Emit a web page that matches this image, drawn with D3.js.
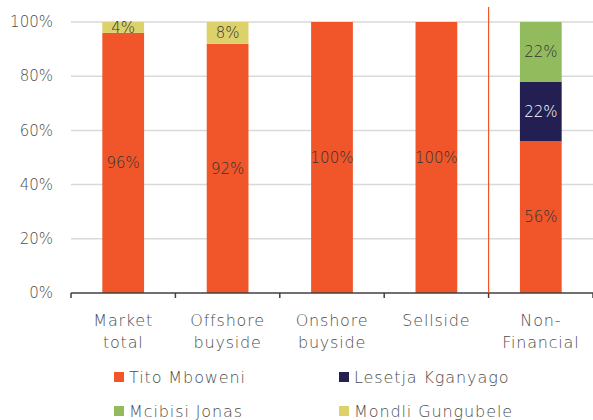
<!DOCTYPE html>
<html>
<head>
<meta charset="utf-8">
<script src="https://cdn.jsdelivr.net/npm/d3@7"></script>
<style>
  body { margin: 0; background: #fff; }
  svg text { font-family: "DejaVu Sans", sans-serif; font-weight: 200; }
</style>
</head>
<body>
<div id="chart"></div>
<script>
// data
const categories = ['Market total', 'Offshore buyside', 'Onshore buyside', 'Sellside', 'Non-Financial']
const catLines = [['Market', 'total'], ['Offshore', 'buyside'], ['Onshore', 'buyside'], ['Sellside'], ['Non-', 'Financial']]
const seriesNames = ['Tito Mboweni', 'Lesetja Kganyago', 'Mcibisi Jonas', 'Mondli Gungubele']
const tito = [96, 92, 100, 100, 56]
const lesetja = [0, 0, 0, 0, 22]
const mcibisi = [0, 0, 0, 0, 22]
const mondli = [4, 8, 0, 0, 0]
const yTicks = [0, 20, 40, 60, 80, 100]
const colors = ['#f0562a', '#231f52', '#92bb5e', '#ddd16b']
const labelColors = ['#333333', '#ffffff', '#333333', '#333333']

const width = 593
const height = 420
const margin = {top: 22, right: 0, bottom: 127, left: 71}

const svg = d3.select('#chart').append('svg')
    .attr('width', width)
    .attr('height', height)

const rows = categories.map((c, i) => ({
    cat: c,
    [seriesNames[0]]: tito[i],
    [seriesNames[1]]: lesetja[i],
    [seriesNames[2]]: mcibisi[i],
    [seriesNames[3]]: mondli[i]
}))
const stacked = d3.stack().keys(seriesNames)(rows)

const x = d3.scaleBand()
    .domain(categories)
    .range([margin.left, width - margin.right])
    .paddingInner(0.6)
    .paddingOuter(0.3)
const y = d3.scaleLinear()
    .domain([0, 100])
    .range([height - margin.bottom, margin.top])

// grid
svg.append('g')
    .selectAll('line')
    .data(yTicks.filter(d => d > 0))
    .join('line')
    .attr('x1', margin.left)
    .attr('x2', width - margin.right)
    .attr('y1', d => y(d))
    .attr('y2', d => y(d))
    .attr('stroke', '#d9d9d9')
    .attr('stroke-width', 1.5)

// y labels
svg.append('g')
    .selectAll('text')
    .data(yTicks)
    .join('text')
    .attr('x', 53)
    .attr('y', d => y(d))
    .attr('dy', '0.35em')
    .attr('text-anchor', 'end')
    .attr('font-size', 15)
    .attr('fill', '#4d4d4d')
    .text(d => d + '%')

// bars
const layer = svg.append('g')
    .selectAll('g')
    .data(stacked)
    .join('g')
    .attr('fill', (d, i) => colors[i])
layer.selectAll('rect')
    .data(d => d)
    .join('rect')
    .attr('x', d => x(d.data.cat))
    .attr('width', x.bandwidth())
    .attr('y', d => y(d[1]))
    .attr('height', d => y(d[0]) - y(d[1]))

// bar labels
stacked.forEach((s, si) => {
    svg.append('g')
        .selectAll('text')
        .data(s.filter(d => d[1] - d[0] > 0))
        .join('text')
        .attr('x', d => x(d.data.cat) + x.bandwidth() / 2)
        .attr('y', d => y((d[0] + d[1]) / 2))
        .attr('dy', '0.35em')
        .attr('text-anchor', 'middle')
        .attr('font-size', 15)
        .attr('fill', labelColors[si])
        .text(d => (d[1] - d[0]) + '%')
})

// x axis line + ticks
const step = x.step()
const edges = d3.range(categories.length + 1).map(i => margin.left + i * step)
svg.append('line')
    .attr('x1', margin.left)
    .attr('x2', width)
    .attr('y1', y(0))
    .attr('y2', y(0))
    .attr('stroke', '#404040')
    .attr('stroke-width', 1.5)
svg.append('g')
    .selectAll('line')
    .data(edges)
    .join('line')
    .attr('x1', d => d)
    .attr('x2', d => d)
    .attr('y1', y(0))
    .attr('y2', y(0) + 5)
    .attr('stroke', '#404040')
    .attr('stroke-width', 1.5)

// separator before Non-Financial
svg.append('line')
    .attr('x1', edges[4])
    .attr('x2', edges[4])
    .attr('y1', 7)
    .attr('y2', y(0))
    .attr('stroke', '#f0562a')
    .attr('stroke-width', 1.2)

// category labels
svg.append('g')
    .selectAll('text')
    .data(categories)
    .join('text')
    .attr('x', d => x(d) + x.bandwidth() / 2)
    .attr('y', 326)
    .attr('text-anchor', 'middle')
    .attr('font-size', 16)
    .attr('letter-spacing', 0.8)
    .attr('fill', '#4d4d4d')
    .selectAll('tspan')
    .data((d, i) => catLines[i])
    .join('tspan')
    .attr('x', function () { return this.parentNode.getAttribute('x') })
    .attr('dy', (d, i) => i === 0 ? 0 : 22)
    .text(d => d)

// legend
const legendPos = [[114, 377], [339, 377], [114, 411], [339, 411]]
const lg = svg.append('g')
    .selectAll('g')
    .data(seriesNames)
    .join('g')
    .attr('transform', (d, i) => `translate(${legendPos[i][0]},${legendPos[i][1]})`)
lg.append('rect')
    .attr('x', 0)
    .attr('y', -5)
    .attr('width', 10)
    .attr('height', 10)
    .attr('fill', (d, i) => colors[i])
lg.append('text')
    .attr('x', 15)
    .attr('dy', '0.35em')
    .attr('font-size', 16)
    .attr('letter-spacing', 0.9)
    .attr('fill', '#4d4d4d')
    .text(d => d)
</script>
</body>
</html>
